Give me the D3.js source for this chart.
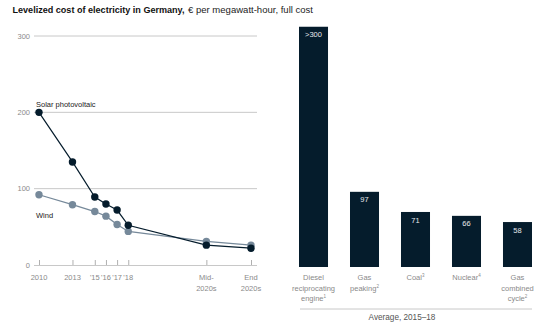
<!DOCTYPE html>
<html>
<head>
<meta charset="utf-8">
<script src="https://cdn.jsdelivr.net/npm/d3@7"></script>
<style>
  html, body { margin: 0; padding: 0; background: #fff; }
  svg { display: block; font-family: "Liberation Sans", Arial, sans-serif; }
</style>
</head>
<body>
<svg id="chart" width="548" height="332"></svg>
<script>
// Levelized cost of electricity, € per MWh
const years = [2010, 2013, 2015, 2016, 2017, 2018, 2025, 2029];
const yearLabels = [["2010"], ["2013"], ["'15"], ["'16"], ["'17"], ["'18"], ["Mid-", "2020s"], ["End", "2020s"]];
const solarValues = [200, 135, 89, 80, 72, 52, 26, 22];
const windValues = [92, 79, 70, 64, 53, 44, 31, 26];
const yTicks = [0, 100, 200, 300];

const categories = ["Diesel reciprocating engine", "Gas peaking", "Coal", "Nuclear", "Gas combined cycle"];
const categoryLines = [
  [["Diesel"], ["reciprocating"], ["engine", "1"]],
  [["Gas"], ["peaking", "2"]],
  [["Coal", "3"]],
  [["Nuclear", "4"]],
  [["Gas"], ["combined"], ["cycle", "2"]]
];
const barValues = [310, 97, 71, 66, 58];
const barLabels = [">300", "97", "71", "66", "58"];

const navy = "#051c2c";
const windColor = "#76899a";
const gridColor = "#c8c8c8";
const textGray = "#8a8a8a";

const svg = d3.select("#chart");

// Title: bold subject followed by the unit
const titleBold = svg.append("text").attr("x", 12.5).attr("y", 12.5)
  .attr("font-size", 8.6).attr("font-weight", "bold").attr("fill", "#111")
  .attr("textLength", 172).attr("lengthAdjust", "spacingAndGlyphs")
  .text("Levelized cost of electricity in Germany,");
svg.append("text").attr("x", 188).attr("y", 12.5)
  .attr("font-size", 8.8).attr("fill", "#222")
  .attr("textLength", 125).attr("lengthAdjust", "spacingAndGlyphs")
  .text("€ per megawatt-hour, full cost");

// ---- Line chart ----
const x = d3.scaleLinear().domain([2010, 2029]).range([39, 251]);
const y = d3.scaleLinear().domain([0, 300]).range([265, 36]);

// Gridlines and y labels
const grid = svg.append("g");
yTicks.forEach(t => {
  if (t > 0) {
    grid.append("line").attr("x1", 34).attr("x2", 257)
      .attr("y1", y(t)).attr("y2", y(t))
      .attr("stroke", gridColor).attr("stroke-width", 1);
  }
  grid.append("text").attr("x", 30).attr("y", y(t)).attr("dy", "0.35em")
    .attr("text-anchor", "end").attr("font-size", 7.5).attr("fill", textGray)
    .text(t);
});

// X axis with upward ticks
const xAxis = d3.axisBottom(x).tickValues(years).tickSize(-5).tickFormat("");
const xg = svg.append("g").attr("transform", `translate(0,${y(0)})`).call(xAxis);
xg.select(".domain").attr("d", `M34,0.5H257`).attr("stroke", gridColor);
xg.selectAll(".tick line").attr("stroke", "#b0b0b0");

years.forEach((yr, i) => {
  const t = svg.append("text").attr("x", x(yr)).attr("y", 280)
    .attr("text-anchor", "middle").attr("font-size", 7.5).attr("fill", textGray);
  yearLabels[i].forEach((s, j) => {
    t.append("tspan").attr("x", x(yr)).attr("dy", j === 0 ? 0 : 10.5).text(s);
  });
});

const line = d3.line().x((d, i) => x(years[i])).y(d => y(d));

function drawSeries(values, color) {
  svg.append("path").datum(values)
    .attr("d", line).attr("fill", "none")
    .attr("stroke", color).attr("stroke-width", 1.2);
  svg.append("g").selectAll("circle").data(values).join("circle")
    .attr("cx", (d, i) => x(years[i])).attr("cy", d => y(d))
    .attr("r", 3.7).attr("fill", color);
}
drawSeries(windValues, windColor);
drawSeries(solarValues, navy);

svg.append("text").attr("x", 36).attr("y", 104).attr("dy", "0.35em")
  .attr("font-size", 7.5).attr("fill", "#222").text("Solar photovoltaic");
svg.append("text").attr("x", 36).attr("y", 215).attr("dy", "0.35em")
  .attr("font-size", 7.5).attr("fill", "#222").text("Wind");

// ---- Bar chart ----
const xb = d3.scaleBand().domain(categories).range([299, 532]).paddingInner(0.431).paddingOuter(0);
const yb = d3.scaleLinear().domain([0, 300]).range([267, 34.5]);

svg.append("g").selectAll("rect").data(barValues).join("rect")
  .attr("x", (d, i) => xb(categories[i])).attr("width", xb.bandwidth())
  .attr("y", d => yb(d)).attr("height", d => yb(0) - yb(d))
  .attr("fill", navy);

svg.append("g").selectAll("text").data(barValues).join("text")
  .attr("x", (d, i) => xb(categories[i]) + xb.bandwidth() / 2)
  .attr("y", d => yb(d) + 8).attr("dy", "0.35em")
  .attr("text-anchor", "middle").attr("font-size", 7.5).attr("fill", "#e6e9ec")
  .text((d, i) => barLabels[i]);

categories.forEach((c, i) => {
  const cx = xb(c) + xb.bandwidth() / 2;
  categoryLines[i].forEach((ln, j) => {
    const t = svg.append("text").attr("x", cx).attr("y", 280 + j * 10.5)
      .attr("text-anchor", "middle").attr("font-size", 7.5).attr("fill", textGray);
    t.append("tspan").text(ln[0]);
    if (ln[1]) t.append("tspan").attr("font-size", 4.5).attr("dy", -3).text(ln[1]);
  });
});

svg.append("line").attr("x1", 300).attr("x2", 532).attr("y1", 309).attr("y2", 309)
  .attr("stroke", gridColor).attr("stroke-width", 1);
svg.append("text").attr("x", 402).attr("y", 317).attr("dy", "0.35em")
  .attr("text-anchor", "middle").attr("font-size", 8.2).attr("fill", "#555")
  .text("Average, 2015–18");
</script>
</body>
</html>
